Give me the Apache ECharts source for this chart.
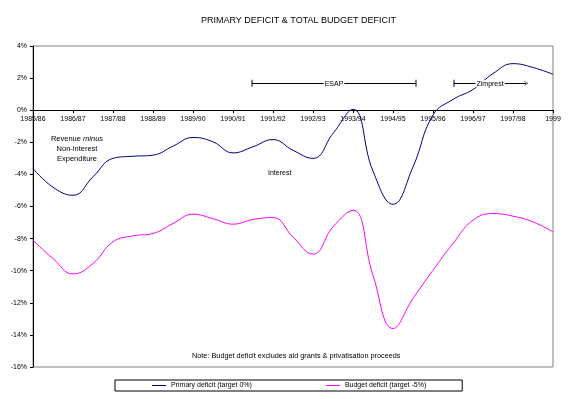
<!DOCTYPE html>
<html>
<head>
<meta charset="utf-8">
<script src="https://cdn.jsdelivr.net/npm/echarts@6/dist/echarts.min.js"></script>
<style>
  html, body { margin: 0; padding: 0; background: #fff; }
  #chart { width: 575px; height: 399px; }
</style>
</head>
<body>
<div id="chart"></div>
<script>
// fiscal years on the axis (one tick per year)
const years = ['1985/86', '1986/87', '1987/88', '1988/89', '1989/90', '1990/91', '1991/92',
  '1992/93', '1993/94', '1994/95', '1995/96', '1996/97', '1997/98', '1999'];
const yTicks = [-16, -14, -12, -10, -8, -6, -4, -2, 0, 2, 4];

// readings every half year, % of GDP
const primaryDeficit = [-3.63, -4.8, -5.3, -4.15, -3.0, -2.87, -2.8, -2.24, -1.7, -1.97, -2.66, -2.28, -1.83,
  -2.5, -3.0, -1.45, 0.05, -3.8, -5.86, -3.53, -0.3, 0.67, 1.29, 2.28, 2.9, 2.66, 2.24];
const budgetDeficit = [-8.1, -9.24, -10.2, -9.55, -8.2, -7.83, -7.68, -7.06, -6.48, -6.75, -7.1, -6.81, -6.69,
  -7.9, -8.97, -7.27, -6.23, -10.3, -13.6, -11.73, -9.97, -8.3, -6.85, -6.44, -6.6, -6.96, -7.58];

// programme periods (start, end in year index) and the level they are drawn at
const esap = [5.475, 9.575];
const zimprest = [10.525, 12.33];
const programmeLevel = 1.68;

const font = 'Liberation Sans, Arial, sans-serif';
const halfYear = v => v.map((d, i) => [i / 2, d]);

// markLine symbols point "up" along the line, so draw them that way
const endBar = 'path://M0,0 L10,0 L10,1 L0,1 Z';
const openHead = 'path://M0,10 L5,0 L10,10 L9,10 L5,2 L1,10 Z';

const plotTop = 46;
const plotBottom = 32;
const plotHeight = 399 - plotTop - plotBottom;
// distance from the bottom edge up to the 0% line
const zeroOffset = plotHeight * (0 - yTicks[0]) / (yTicks[yTicks.length - 1] - yTicks[0]);

const markLabel = {
  show: true, position: 'middle', fontSize: 7, color: '#000',
  backgroundColor: '#fff', padding: [0, 1], distance: -4
};

const chart = echarts.init(document.getElementById('chart'));
chart.setOption({
  animation: false,
  textStyle: { fontFamily: font },
  title: {
    text: 'PRIMARY DEFICIT & TOTAL BUDGET DEFICIT',
    left: 196,
    top: 11,
    textStyle: { fontSize: 9, fontWeight: 'normal', color: '#000', fontFamily: font }
  },
  grid: {
    left: 33, right: 22, top: plotTop, bottom: plotBottom,
    show: true, borderColor: '#808080', borderWidth: 1
  },
  legend: {
    left: 115,
    top: 380,
    padding: [2, 36, 2, 37],
    itemGap: 74,
    itemWidth: 14,
    itemHeight: 1,
    icon: 'rect',
    borderColor: '#000',
    borderWidth: 1,
    textStyle: { fontSize: 7, color: '#000', fontFamily: font },
    data: ['Primary deficit (target 0%)', 'Budget deficit (target -5%)']
  },
  xAxis: {
    type: 'value',
    min: 0,
    max: years.length - 1,
    interval: 1,
    position: 'bottom',
    offset: -zeroOffset,
    axisLine: { onZero: false, lineStyle: { color: '#000', width: 1 } },
    axisTick: { show: true, length: 3, lineStyle: { color: '#000' } },
    axisLabel: {
      fontSize: 7, color: '#000', margin: 5,
      formatter: v => years[v]
    },
    splitLine: { show: false }
  },
  yAxis: {
    type: 'value',
    min: yTicks[0],
    max: yTicks[yTicks.length - 1],
    interval: 2,
    axisLine: { show: true, lineStyle: { color: '#000', width: 1 } },
    axisTick: { show: true, length: 3, lineStyle: { color: '#000' } },
    axisLabel: { fontSize: 7, color: '#000', margin: 6, formatter: '{value}%' },
    splitLine: { show: false }
  },
  series: [
    {
      name: 'Primary deficit (target 0%)',
      type: 'line',
      smooth: 0.45,
      showSymbol: false,
      color: '#000080',
      lineStyle: { width: 1, color: '#000080' },
      data: halfYear(primaryDeficit),
      markLine: {
        silent: true,
        lineStyle: { color: '#000', width: 1, type: 'solid' },
        label: markLabel,
        data: [
          [
            { coord: [esap[0], programmeLevel], name: 'ESAP', symbol: endBar, symbolSize: [7, 1] },
            { coord: [esap[1], programmeLevel], symbol: endBar, symbolSize: [7, 1] }
          ]
        ]
      }
    },
    {
      name: 'Budget deficit (target -5%)',
      type: 'line',
      smooth: 0.45,
      showSymbol: false,
      color: '#FF00FF',
      lineStyle: { width: 1, color: '#FF00FF' },
      data: halfYear(budgetDeficit),
      markLine: {
        silent: true,
        lineStyle: { color: '#000', width: 1, type: 'solid' },
        label: markLabel,
        data: [
          [
            { coord: [zimprest[0], programmeLevel], name: 'Zimprest', symbol: endBar, symbolSize: [7, 1] },
            { coord: [zimprest[1], programmeLevel], symbol: openHead, symbolSize: [5, 4] }
          ]
        ]
      }
    }
  ],
  graphic: [
    {
      type: 'text', x: 77, y: 134,
      style: {
        text: '{a|Revenue }{b|minus}\n{a|Non-interest}\n{a|Expenditure}',
        align: 'center',
        fontSize: 7.5,
        lineHeight: 10,
        rich: {
          a: { fontSize: 7.5, fontFamily: font, fill: '#000', lineHeight: 10 },
          b: { fontSize: 7.5, fontFamily: font, fontStyle: 'italic', fill: '#000', lineHeight: 10 }
        }
      }
    },
    {
      type: 'text', x: 268, y: 170,
      style: { text: 'Interest', fontSize: 7, fontFamily: font, fill: '#000' }
    },
    {
      type: 'text', x: 192, y: 352,
      style: { text: 'Note: Budget deficit excludes aid grants & privatisation proceeds', fontSize: 7.3, fontFamily: font, fill: '#000' }
    }
  ]
});
</script>
</body>
</html>
